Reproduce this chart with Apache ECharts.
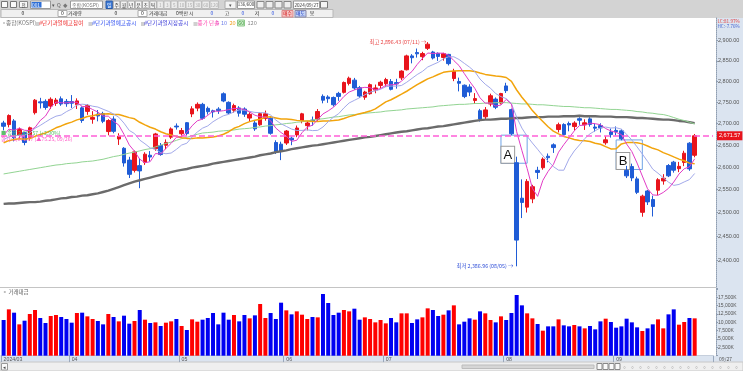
<!DOCTYPE html>
<html><head><meta charset="utf-8">
<script src="https://cdn.jsdelivr.net/npm/echarts@6/dist/echarts.min.js"></script>
<style>html,body{margin:0;padding:0;background:#fff;}#c{width:743px;height:371px;}</style>
</head><body><div id="c"></div>
<script>
// ---------- DATA ----------
const dates = [
'2024/03/13','2024/03/14','2024/03/15','2024/03/18','2024/03/19','2024/03/20','2024/03/21','2024/03/22','2024/03/25','2024/03/26','2024/03/27','2024/03/28','2024/03/29',
'2024/04/01','2024/04/02','2024/04/03','2024/04/04','2024/04/05','2024/04/08','2024/04/09','2024/04/11','2024/04/12','2024/04/15','2024/04/16','2024/04/17','2024/04/18','2024/04/19','2024/04/22','2024/04/23','2024/04/24','2024/04/25','2024/04/26','2024/04/29','2024/04/30',
'2024/05/02','2024/05/03','2024/05/07','2024/05/08','2024/05/09','2024/05/10','2024/05/13','2024/05/14','2024/05/16','2024/05/17','2024/05/20','2024/05/21','2024/05/22','2024/05/23','2024/05/24','2024/05/27','2024/05/28','2024/05/29','2024/05/30','2024/05/31',
'2024/06/03','2024/06/04','2024/06/05','2024/06/07','2024/06/10','2024/06/11','2024/06/12','2024/06/13','2024/06/14','2024/06/17','2024/06/18','2024/06/19','2024/06/20','2024/06/21','2024/06/24','2024/06/25','2024/06/26','2024/06/27','2024/06/28',
'2024/07/01','2024/07/02','2024/07/03','2024/07/04','2024/07/05','2024/07/08','2024/07/09','2024/07/10','2024/07/11','2024/07/12','2024/07/15','2024/07/16','2024/07/17','2024/07/18','2024/07/19','2024/07/22','2024/07/23','2024/07/24','2024/07/25','2024/07/26','2024/07/29','2024/07/30','2024/07/31',
'2024/08/01','2024/08/02','2024/08/05','2024/08/06','2024/08/07','2024/08/08','2024/08/09','2024/08/12','2024/08/13','2024/08/14','2024/08/16','2024/08/19','2024/08/20','2024/08/21','2024/08/22','2024/08/23','2024/08/26','2024/08/27','2024/08/28','2024/08/29','2024/08/30',
'2024/09/02','2024/09/03','2024/09/04','2024/09/05','2024/09/06','2024/09/09','2024/09/10','2024/09/11','2024/09/12','2024/09/13','2024/09/19','2024/09/20','2024/09/23','2024/09/24','2024/09/25','2024/09/26'
];
// [open, close, low, high]
const ohlc = [
[2701.2,2693.57,2684.0,2706.3],[2697.5,2718.76,2691.0,2721.4],[2706.0,2666.84,2658.7,2710.3],[2672.4,2685.84,2665.9,2690.5],[2678.7,2656.17,2649.8,2680.2],
[2667.0,2690.14,2660.5,2692.7],[2725.3,2754.86,2721.0,2757.7],[2750.9,2748.56,2735.2,2760.5],[2752.1,2737.57,2732.4,2756.9],[2741.0,2757.09,2733.8,2761.6],
[2747.5,2755.11,2741.3,2760.2],[2758.1,2745.82,2741.5,2763.9],[2752.0,2746.63,2739.3,2757.7],
[2751.5,2747.86,2736.5,2767.1],[2744.3,2753.16,2734.0,2759.3],[2736.7,2706.97,2701.6,2740.1],[2728.4,2742.00,2720.3,2745.5],[2710.0,2714.21,2699.5,2729.0],
[2722.0,2717.65,2705.1,2731.6],[2723.5,2705.16,2700.8,2727.5],[2681.3,2706.96,2672.7,2710.1],[2710.4,2681.82,2677.3,2716.9],[2664.1,2670.43,2650.5,2677.3],
[2642.9,2609.63,2601.4,2645.5],[2616.1,2584.18,2575.9,2623.5],[2593.0,2634.70,2588.2,2637.8],[2603.6,2591.86,2553.4,2619.8],[2611.0,2629.44,2605.3,2633.9],
[2627.1,2623.02,2613.5,2636.5],[2641.8,2675.75,2637.2,2678.3],[2649.3,2628.62,2626.0,2654.9],[2649.8,2656.33,2640.8,2663.2],[2668.4,2687.44,2664.0,2691.0],
[2694.0,2692.06,2685.9,2700.2],
[2676.3,2683.65,2668.6,2689.6],[2701.9,2676.63,2672.2,2703.3],[2722.4,2734.36,2714.9,2740.5],[2736.1,2745.05,2728.7,2749.6],[2745.0,2712.14,2709.0,2748.6],
[2735.6,2727.63,2721.0,2739.8],[2729.9,2727.21,2714.0,2732.4],[2733.7,2730.34,2722.5,2738.3],[2770.2,2753.00,2750.1,2773.5],[2749.8,2724.62,2721.7,2752.1],
[2731.0,2742.14,2725.4,2746.6],[2736.5,2724.18,2716.0,2740.6],[2734.0,2721.81,2715.5,2737.9],[2712.7,2721.42,2705.8,2726.5],[2701.3,2687.60,2683.0,2706.3],
[2697.0,2722.99,2694.6,2725.6],[2712.0,2722.85,2706.5,2730.3],[2712.2,2677.30,2674.1,2715.0],[2656.1,2635.44,2630.0,2661.2],[2652.3,2636.52,2616.0,2658.0],
[2654.9,2682.52,2650.5,2684.9],[2666.1,2662.10,2649.9,2669.7],[2673.6,2689.50,2668.4,2695.3],[2706.8,2722.67,2700.5,2725.0],[2695.0,2701.17,2684.0,2705.7],
[2708.0,2705.31,2695.0,2716.3],[2709.8,2728.17,2706.3,2733.9],[2764.0,2754.89,2747.5,2768.7],[2762.5,2758.42,2748.6,2766.7],[2761.4,2744.10,2739.8,2763.6],
[2771.1,2763.92,2753.3,2774.8],[2773.6,2797.33,2770.9,2799.6],[2795.1,2807.63,2790.3,2811.5],[2803.0,2784.06,2779.7,2808.4],[2784.8,2764.73,2760.2,2789.0],
[2762.0,2774.39,2755.9,2777.3],[2770.3,2792.05,2768.1,2795.0],[2779.0,2784.18,2771.4,2792.3],[2790.3,2797.82,2783.2,2801.5],
[2794.4,2804.31,2786.7,2808.6],[2799.7,2780.86,2778.3,2805.6],[2797.0,2794.01,2782.5,2806.2],[2808.5,2824.94,2803.4,2826.9],[2828.2,2862.23,2826.5,2865.2],
[2862.2,2857.76,2843.9,2866.6],[2870.5,2867.38,2858.0,2880.5],[2860.3,2867.99,2851.6,2872.4],[2881.0,2891.35,2876.9,2896.43],[2871.9,2857.00,2853.4,2874.7],
[2868.5,2860.92,2849.9,2870.9],[2858.4,2867.82,2850.5,2869.9],[2866.0,2843.19,2838.8,2867.3],[2806.9,2824.35,2800.5,2830.6],[2799.8,2795.46,2775.9,2809.1],
[2790.7,2763.51,2759.8,2792.5],[2786.5,2774.29,2764.6,2793.0],[2754.2,2758.71,2746.0,2771.8],[2730.0,2710.65,2704.6,2734.3],[2715.7,2731.90,2710.3,2738.6],
[2745.8,2765.49,2740.3,2770.4],[2757.5,2738.19,2733.7,2761.5],[2748.0,2770.69,2744.8,2772.4],
[2789.0,2777.68,2772.1,2796.6],[2732.6,2676.19,2673.1,2735.0],[2610.1,2441.55,2386.96,2623.8],[2531.5,2522.15,2488.4,2573.0],[2512.0,2568.41,2500.3,2573.5],
[2530.0,2556.73,2520.6,2560.9],[2593.0,2588.43,2573.8,2601.1],[2598.9,2618.30,2594.5,2622.2],[2624.8,2621.50,2610.9,2631.0],[2650.8,2644.50,2632.3,2654.2],
[2686.0,2697.23,2679.3,2702.0],[2697.8,2674.36,2671.7,2700.6],[2700.0,2696.63,2681.9,2704.5],[2692.9,2701.13,2683.6,2705.3],[2711.2,2707.67,2697.0,2714.6],
[2697.0,2701.69,2685.1,2709.8],[2710.8,2698.01,2692.7,2714.8],[2691.8,2689.25,2681.0,2700.1],[2695.1,2689.83,2679.2,2700.5],[2655.5,2662.28,2651.0,2670.6],
[2680.3,2674.31,2667.4,2688.4],
[2684.0,2681.00,2672.3,2693.2],[2683.0,2664.63,2661.2,2686.5],[2593.0,2580.80,2575.9,2603.0],[2601.5,2576.20,2569.0,2608.1],[2574.0,2544.28,2540.5,2578.9],
[2500.8,2535.93,2491.3,2539.1],[2547.3,2523.43,2516.7,2549.6],[2528.5,2513.37,2491.8,2537.0],[2549.0,2572.09,2538.3,2575.6],[2569.4,2575.41,2561.2,2584.5],
[2603.8,2580.80,2578.0,2607.1],[2611.5,2593.37,2587.9,2614.3],[2596.8,2602.01,2589.0,2612.0],[2610.9,2631.68,2602.5,2637.2],[2654.5,2596.32,2592.0,2657.0],
[2627.0,2671.57,2622.4,2675.7]
];
// trading value (거래대금), K units
const volumes = [
10684,13877,12880,9387,10484,12480,13678,11283,9786,11882,12181,11582,10983,
9886,12780,12880,11782,10983,10385,9387,12480,11582,10285,11982,9586,10385,13678,10784,9786,9985,8888,9886,10285,10983,
8888,7690,10884,10185,10784,11283,12780,9387,12880,10784,12181,10285,12181,11183,12081,15475,11283,12780,10983,15874,
13578,12381,13279,12281,10983,11582,11482,18468,15774,12181,12880,13678,13279,14077,10784,11482,10983,9985,10684,
9686,11283,9985,12680,12680,9786,10884,11482,14177,13678,11882,12281,13578,15076,9387,10185,11183,10784,13279,12680,10684,9985,11782,
10684,12780,18170,15076,12680,11183,9486,7491,8788,8788,10884,9087,8788,9187,8788,8189,8888,7890,10285,11083,10085,
8389,8788,11083,9985,8489,7391,8189,9387,10884,8189,12381,13877,9287,10085,11283,11183
];
// closes of the 19 sessions before the first visible bar (for MA5/10/20)
const priorCloses = [2620.42,2613.80,2648.76,2680.26,2657.79,2653.31,2664.27,2667.70,2647.08,2625.05,2658.84,2642.36,2674.27,2649.40,2641.49,2647.62,2680.35,2660.00,2681.81];
// MA60 / MA120
const ma60 = [2585,2587,2589,2591,2593,2595,2597,2599,2601,
2603,2605,2606,2608,2609,2610,2612,2613,2614,2616,
2618,2621,2624,2626,2629,2632,2634,2637,2640,
2642,2646,2650,2654,2657,
2661,2665,2668,2672,2675,
2678,2679,2680,2682,2683,2684,2685,2687,2688,2689,
2691,2692,2694,2695,2697,2698,2700,2701,2703,
2704,2706,2708,2710,2711,2713,2715,2716,2718,2720,
2721,2722,2724,2725,2726,2727,2729,2730,2731,
2732,2734,2735,2736,2737,2738,2739,2741,2742,2743,
2744,2745,2745,2746,2747,2747,2748,
2748,2749,2749,2749,2748,2747,
2746,2746,2745,2744,2744,2743,2742,2741,
2740,2740,2739,2738,2737,2737,2736,
2735,2734,2733,2733,2732,2731,
2730,2728,2727,2725,2724,2722,2721,
2718,2714,2710,2707,2703,2699];
const ma120 = [2519,2520,2520,2521,2522,2523,2523,
2524,2526,2527,2529,2531,2532,2534,2535,2537,2538,2540,2542,
2545,2548,2552,2556,2560,2564,2568,
2571,2574,2577,2580,2583,2586,2589,2592,
2594,2596,2599,2601,2603,2605,2608,
2610,2612,2614,2616,2618,2620,2622,
2624,2627,2629,2631,2634,2636,2638,2641,2643,
2645,2647,2649,2650,2652,2654,2656,2658,2660,2662,
2664,2666,2668,2669,2671,2673,2675,2677,2679,
2681,2682,2684,2686,2688,2689,2691,2693,2694,2696,
2698,2700,2702,2704,2706,
2708,2709,2709,2710,2711,2711,2712,2713,2713,2714,
2715,2715,2715,2716,2716,2716,2717,2717,2717,2718,
2717,2717,2717,2716,2716,2716,2715,2715,2715,
2714,2713,2713,2712,2711,2710,2709,2709,2708,2706,
2705,2703,2701];
const priceTicks = [2400,2450,2500,2550,2600,2650,2700,2750,2800,2850,2900];
const volTicks = [2500,5000,7500,10000,12500,15000,17500];
const boxA = {from:'2024/07/31', to:'2024/08/07', top:2673, bottom:2609, label:'A'};
const boxB = {from:'2024/09/02', to:'2024/09/09', top:2662, bottom:2595, label:'B'};
const padCats = ['pad1','pad2','pad3'];

// ---------- DERIVED ----------
const cats = dates.concat(padCats);
const closes = ohlc.map(r => r[1]);
const allC = priorCloses.concat(closes);
function sma(n){
  return closes.map((_, i) => {
    const end = i + priorCloses.length; let s = 0;
    for (let k = end - n + 1; k <= end; k++) s += allC[k];
    return +(s / n).toFixed(2);
  });
}
const ma5 = sma(5), ma10 = sma(10), ma20 = sma(20);
let hiIdx = 0, loIdx = 0;
ohlc.forEach((r, i) => { if (r[3] > ohlc[hiIdx][3]) hiIdx = i; if (r[2] < ohlc[loIdx][2]) loIdx = i; });
const lastClose = closes[closes.length - 1];
const fmt2 = v => v.toLocaleString('en-US', {minimumFractionDigits:2, maximumFractionDigits:2});
const md = d => d.slice(5);
const UP = '#e8141c', DN = '#1f5cd6';
const PMIN = 2344.7, PMAX = 2957.4;
const FNT = '"Noto Sans CJK KR","Liberation Sans",sans-serif';

// ---------- DECORATION (layout only) ----------
const g = [];
function rect(x,y,w,h,fill,stroke,z){g.push({type:'rect',silent:true,z:(z==null?-10:z),shape:{x:x,y:y,width:w,height:h},style:{fill:fill,stroke:stroke||null,lineWidth:stroke?1:0}});}
function txt(x,y,s,color,size,align,z){g.push({type:'text',silent:true,z:(z==null?100:z),x:x,y:y,style:{text:s,fill:color,font:size+'px '+FNT,align:align||'left',verticalAlign:'middle',textAlign:align||'left',textVerticalAlign:'middle'}});}
function ln(x1,y1,x2,y2,color,z){g.push({type:'line',silent:true,z:(z==null?-5:z),shape:{x1:x1,y1:y1,x2:x2,y2:y2},style:{stroke:color,lineWidth:1}});}
// header
rect(0,0,743,18,'#d3d3d3');
rect(1.5,1.5,6,6,'#fafafa','#777',-9); rect(10.5,1.5,6,6,'#fafafa','#777',-9); rect(19.5,1.5,8,6,'#fafafa','#888',-9);
txt(23.5,4.8,'전','#333',4.5,'center');
rect(30.5,1,20,7.5,'#fff','#999',-9); rect(31.5,2,10,5.5,'#2f6fd6',null,-8); txt(32,4.8,'001','#fff',4.8);
txt(52,4.8,'▾','#555',5); txt(57,4.8,'Q','#555',5); txt(63,4.8,'◆','#777',4.5);
rect(70.5,1,32,7.5,'#fff','#999',-9); txt(72,4.8,'종합(KOSPI)','#777',5);
['일','주','월','년','분','초','틱'].forEach((s,i)=>{const x=106+i*7.3; rect(x,1,6.6,7.5,i===0?'#3a78d6':'#f4f4f4',i===0?'#2a5aa6':'#aaa',-9); txt(x+3.3,4.8,s,i===0?'#fff':'#333',4.8,'center');});
let nx=157; ['1','3','5','10','15','30','60','120'].forEach(s=>{const w=s.length>2?9:(s.length>1?8:7); rect(nx,1,w-0.6,7.5,'#ececec','#bbb',-9); txt(nx+w/2-0.3,4.8,s,'#aaa',4.6,'center'); nx+=w;});
rect(225,1,11,7.5,'#f3f3f3','#aaa',-9); txt(230.5,4.8,'▾','#555',4.5,'center');
rect(237.5,1,17,7.5,'#fff','#999',-9); txt(246,4.8,'136/600','#333',4.4,'center');
rect(257,1.5,7,6.5,'#eee','#888',-9); rect(266,1.5,7,6.5,'#eee','#888',-9); rect(275,1.5,7,6.5,'#eee','#888',-9); rect(284,1.5,7,6.5,'#eee','#888',-9);
rect(293.5,1,26,7.5,'#fff','#999',-9); txt(306.5,4.8,'2024/09/27','#333',4.6,'center'); rect(320.5,1.5,7,6.5,'#f4f4f4','#777',-9);
rect(1,9.5,332,8,'#f0f0f0','#b8b8b8',-9);
txt(23,13.5,'0','#222',5,'center'); rect(58,10.5,9,6,'#fff','#aaa',-8); txt(62.5,13.5,'0','#222',5,'center'); txt(68,13.5,'거래량','#333',5);
txt(116,13.5,'0','#222',5,'center'); rect(138,10.5,9,6,'#fff','#aaa',-8); txt(142.5,13.5,'0','#222',5,'center'); txt(149,13.5,'거래대금','#333',5);
txt(176,13.5,'0백만 시','#333',5); txt(212,13.5,'0','#2a4fe0',5,'center'); txt(227,13.5,'고','#333',5,'center');
txt(243,13.5,'0','#2a4fe0',5,'center'); txt(257,13.5,'저','#333',5,'center'); txt(273,13.5,'0','#2a4fe0',5,'center');
rect(282,10.5,11,6.5,'#f5c3c3','#d88',-8); txt(287.5,13.6,'매수','#d01010',4.6,'center');
rect(295,10.5,11,6.5,'#c3d2f5','#88a',-8); txt(300.5,13.6,'매도','#1030c0',4.6,'center'); txt(312,13.5,'봉','#333',5,'center');
// legend row
txt(1,23,'▫','#888',6); txt(6,23,'종합(KOSPI)','#777',5.6);
txt(35,23,'■','#d0d0d0',5); txt(39,23,'#단기과열예고참여','#ee2a2a',5.6);
txt(88,23,'■','#d0d0d0',5); txt(92,23,'#단기과열예고공시','#2f4ff0',5.6);
txt(140.5,23,'■','#d0d0d0',5); txt(144,23,'#단기과열지정공시','#3a3ad8',5.6);
txt(193,23,'■','#d0d0d0',5); txt(197.5,23,'종가 단순','#ff4fb3',5.6);
txt(216,23,'5','#e03cc0',5.6); txt(221,23,'10','#6d7de8',5.6); txt(229.5,23,'20','#f0a020',5.6);
rect(237.5,20,7,6,'#cfeccc','#8cc98a',-8); txt(238.3,23,'60','#3a9a3a',5.4); txt(247.5,23,'120','#888',5.6);
// side overlays
txt(1,133.5,'■ 종합 2,671.57 (+2.90%)','#5cbf6a',5.2); txt(1,139.5,'종가: 2,671.57 (▲75.25, 09/26)','#ff5fc8',5.2);
// right panel, strips, scrollbar
rect(716,18,27,338,'#dbe4f0');
txt(717.5,21.5,'LC:81.97%','#e04040',4.6); txt(717.5,26,'HC:-7.76%','#4060d0',4.6);
ln(0,287.5,716,287.5,'#c4c4c4');
rect(0,355.7,743,6.4,'#dbe4f0');
txt(719,358.9,'09/27','#555',5);
txt(2,291.5,'▫ 거래대금','#555',5.4);
rect(0,362,743,9,'#efefef','#c8c8c8');
rect(1.5,363.5,6,6.5,'#fafafa','#999',-9); txt(4.5,366.8,'◂','#444',5,'center');
rect(462,365,132,3.5,'#d6d6d6','#bcbcbc',-9);
[597,603,609,615].forEach(x=>rect(x,363.5,5,6,'#fafafa','#888',-9));
[622,630,638,646,654,662,670,678,686,694,702,710,718,726,734].forEach(x=>txt(x,366.8,'▫','#666',5));

// ---------- CHART ----------
const chart = echarts.init(document.getElementById('c'), null, {renderer:'canvas', width:743, height:371});
const lineS = (name, data, color, w) => ({name, type:'line', data, xAxisIndex:0, yAxisIndex:0, symbol:'none', showSymbol:false, silent:true, z:3,
  lineStyle:{color, width:w}, itemStyle:{color}});
const catIdx = d => dates.indexOf(d);
const areaItem = b => [{coord:[catIdx(b.from), b.top], label:{formatter:b.label}}, {coord:[catIdx(b.to), b.bottom]}];
const monthStart = (i) => i === 0 || (i < dates.length && dates[i].slice(5,7) !== dates[i-1].slice(5,7));

chart.setOption({
  animation:false,
  backgroundColor:'#ffffff',
  graphic:{elements:g},
  grid:[
    {left:1, width:712, top:18, height:269},
    {left:1, width:712, top:288, height:67.7}
  ],
  xAxis:[
    {type:'category', gridIndex:0, data:cats, boundaryGap:true, axisLine:{show:false}, axisTick:{show:false}, axisLabel:{show:false}, splitLine:{show:false}},
    {type:'category', gridIndex:1, data:cats, boundaryGap:true,
     axisLine:{show:true, lineStyle:{color:'#c6cfdc'}},
     axisTick:{show:true, interval:(i)=>monthStart(i), length:6.4, lineStyle:{color:'#9aa8bb'}},
     axisLabel:{show:true, interval:(i)=>monthStart(i), formatter:(v,i)=> i===0 ? '2024/03' : v.slice(5,7), align:'left', margin:1.5,
       fontSize:5.2, color:'#555', fontFamily:'Liberation Sans'},
     splitLine:{show:false}}
  ],
  yAxis:[
    {type:'log', gridIndex:0, min:PMIN, max:PMAX, position:'right', show:false, splitLine:{show:false}},
    {type:'value', gridIndex:1, min:0, max:20270, interval:2500, position:'right', offset:3,
     axisLine:{show:true, lineStyle:{color:'#8f9db0', type:'dotted'}},
     axisTick:{show:true, length:2, lineStyle:{color:'#8f9db0'}},
     axisLabel:{fontSize:5, color:'#555', margin:2, fontFamily:'Liberation Sans',
       formatter:v => (v === 0 || v >= 20000) ? '' : v.toLocaleString('en-US') + 'K'},
     splitLine:{show:false}},
    {type:'value', gridIndex:0, min:Math.log(PMIN), max:Math.log(PMAX), position:'right', offset:3,
     axisLine:{show:true, lineStyle:{color:'#8f9db0', type:'dotted'}},
     axisTick:{show:true, length:2, customValues:priceTicks.map(Math.log), lineStyle:{color:'#8f9db0'}},
     axisLabel:{customValues:priceTicks.map(Math.log), fontSize:5.5, color:'#555', margin:2, fontFamily:'Liberation Sans',
       formatter:v => fmt2(Math.round(Math.exp(v)))},
     splitLine:{show:false}}
  ],
  series:[
    {name:'KOSPI', type:'candlestick', xAxisIndex:0, yAxisIndex:0, data:ohlc, barWidth:4, silent:true, z:2,
     itemStyle:{color:UP, color0:DN, borderColor:UP, borderColor0:DN, borderWidth:1},
     markLine:{silent:true, symbol:['none','none'], data:[{yAxis:lastClose}],
       lineStyle:{color:'#ff5fd7', type:[6,3], width:1.6},
       label:{show:true, position:'end', distance:4, formatter:fmt2(lastClose), backgroundColor:'#e8141c', color:'#fff',
         fontSize:5.5, padding:[1.5,2], fontFamily:'Liberation Sans'}},
     markPoint:{silent:true, symbol:'circle', symbolSize:1, itemStyle:{color:'rgba(0,0,0,0)'},
       data:[
         {coord:[hiIdx, ohlc[hiIdx][3]], label:{show:true, position:'left', distance:1, formatter:'최고 ' + fmt2(ohlc[hiIdx][3]) + ' (' + md(dates[hiIdx]) + ') →', color:'#e84545', fontSize:5.3, fontFamily:FNT}},
         {coord:[loIdx, ohlc[loIdx][2]], label:{show:true, position:'left', distance:3, formatter:'최저 ' + fmt2(ohlc[loIdx][2]) + ' (' + md(dates[loIdx]) + ') →', color:'#2f4fd8', fontSize:5.3, fontFamily:FNT}}
       ]},
     markArea:{silent:true, itemStyle:{color:'rgba(0,0,0,0)', borderColor:'#6fa3e6', borderWidth:1},
       label:{show:true, position:'insideBottomLeft', distance:1, color:'#111', fontSize:13, fontFamily:'Liberation Sans',
         backgroundColor:'#ffffff', borderColor:'#9a9a9a', borderWidth:1, padding:[2,2,1,2]},
       data:[areaItem(boxA), areaItem(boxB)]}
    },
    lineS('MA120', ma120, '#6b6b6b', 2.4),
    lineS('MA60', ma60, '#92d492', 1),
    lineS('MA20', ma20, '#f2a40c', 1.5),
    lineS('MA10', ma10, '#a2a9ea', 1),
    lineS('MA5', ma5, '#e23cc6', 1),
    {name:'거래대금', type:'bar', xAxisIndex:1, yAxisIndex:1, data:volumes, barWidth:4, silent:true,
     itemStyle:{color:p => (ohlc[p.dataIndex][1] > ohlc[p.dataIndex][0]) ? '#ff0000' : '#0000f2'},
     markLine:{silent:true, symbol:['none','none'], data:[{yAxis:2602}], lineStyle:{opacity:0},
       label:{show:true, position:'end', distance:4, formatter:'2,602K', backgroundColor:'#0000e0', color:'#fff', fontSize:5, padding:[1,3], fontFamily:'Liberation Sans'}}}
  ]
});
</script>
</body></html>
